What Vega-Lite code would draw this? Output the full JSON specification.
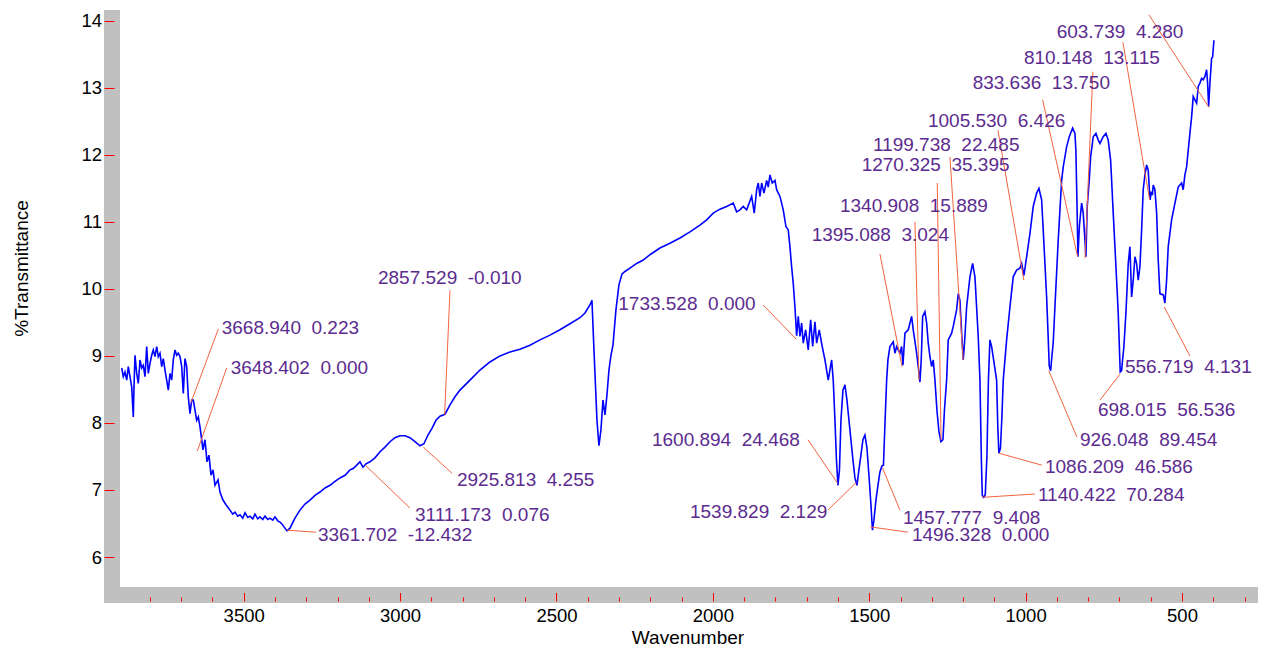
{
  "$schema": "https://vega.github.io/schema/vega-lite/v6.json",
  "width": 1154,
  "height": 593,
  "autosize": {"type": "none"},
  "padding": {"left": 104, "top": 10, "right": 4, "bottom": 44},
  "background": "white",
  "config": {
    "view": {"fill": "#c0c0c0", "stroke": null},
    "font": "Liberation Sans"
  },
  "datasets": {
    "spectrum": [
      {"wn": 3890.0, "t": 8.82}, {"wn": 3884.9, "t": 8.69}, {"wn": 3879.5, "t": 8.76}, {"wn": 3874.0, "t": 8.64},
      {"wn": 3868.9, "t": 8.84}, {"wn": 3863.5, "t": 8.69}, {"wn": 3858.1, "t": 8.54}, {"wn": 3852.9, "t": 8.09},
      {"wn": 3850.7, "t": 8.54}, {"wn": 3847.5, "t": 9.01}, {"wn": 3842.1, "t": 8.74}, {"wn": 3836.9, "t": 8.59},
      {"wn": 3831.5, "t": 8.94}, {"wn": 3826.1, "t": 8.82}, {"wn": 3821.0, "t": 8.86}, {"wn": 3815.5, "t": 8.69},
      {"wn": 3810.1, "t": 9.14}, {"wn": 3805.0, "t": 8.74}, {"wn": 3799.5, "t": 8.89}, {"wn": 3794.1, "t": 9.01},
      {"wn": 3789.0, "t": 9.09}, {"wn": 3783.6, "t": 8.99}, {"wn": 3778.1, "t": 9.14}, {"wn": 3773.0, "t": 8.99},
      {"wn": 3767.6, "t": 9.04}, {"wn": 3762.1, "t": 8.84}, {"wn": 3757.0, "t": 8.96}, {"wn": 3751.6, "t": 8.79},
      {"wn": 3746.2, "t": 8.64}, {"wn": 3741.0, "t": 8.49}, {"wn": 3735.6, "t": 8.74}, {"wn": 3730.2, "t": 8.64},
      {"wn": 3725.1, "t": 8.94}, {"wn": 3719.6, "t": 9.09}, {"wn": 3714.2, "t": 9.01}, {"wn": 3709.1, "t": 9.04},
      {"wn": 3703.6, "t": 8.99}, {"wn": 3698.2, "t": 8.84}, {"wn": 3693.1, "t": 8.44}, {"wn": 3687.7, "t": 8.96},
      {"wn": 3682.2, "t": 8.84}, {"wn": 3677.1, "t": 8.39}, {"wn": 3671.7, "t": 8.14}, {"wn": 3666.2, "t": 8.34},
      {"wn": 3661.1, "t": 8.34}, {"wn": 3655.7, "t": 8.19}, {"wn": 3650.2, "t": 8.04}, {"wn": 3645.1, "t": 8.09},
      {"wn": 3639.7, "t": 7.94}, {"wn": 3634.3, "t": 7.75}, {"wn": 3630.1, "t": 7.60}, {"wn": 3623.7, "t": 7.75},
      {"wn": 3617.3, "t": 7.42}, {"wn": 3610.9, "t": 7.52}, {"wn": 3604.5, "t": 7.22}, {"wn": 3598.1, "t": 7.30},
      {"wn": 3591.7, "t": 7.07}, {"wn": 3582.1, "t": 7.15}, {"wn": 3575.8, "t": 6.97}, {"wn": 3566.2, "t": 6.85},
      {"wn": 3556.6, "t": 6.78}, {"wn": 3550.0, "t": 6.74}, {"wn": 3543.8, "t": 6.70}, {"wn": 3535.0, "t": 6.64},
      {"wn": 3527.8, "t": 6.67}, {"wn": 3519.0, "t": 6.61}, {"wn": 3511.8, "t": 6.63}, {"wn": 3503.0, "t": 6.58},
      {"wn": 3495.8, "t": 6.66}, {"wn": 3487.0, "t": 6.59}, {"wn": 3479.8, "t": 6.61}, {"wn": 3471.0, "t": 6.57},
      {"wn": 3463.9, "t": 6.64}, {"wn": 3455.0, "t": 6.57}, {"wn": 3447.9, "t": 6.60}, {"wn": 3439.0, "t": 6.56},
      {"wn": 3431.9, "t": 6.61}, {"wn": 3423.0, "t": 6.56}, {"wn": 3415.9, "t": 6.58}, {"wn": 3407.0, "t": 6.55},
      {"wn": 3399.9, "t": 6.60}, {"wn": 3391.0, "t": 6.54}, {"wn": 3383.9, "t": 6.52}, {"wn": 3377.0, "t": 6.49},
      {"wn": 3371.1, "t": 6.45}, {"wn": 3361.6, "t": 6.39}, {"wn": 3352.0, "t": 6.43}, {"wn": 3336.0, "t": 6.58},
      {"wn": 3320.0, "t": 6.70}, {"wn": 3304.0, "t": 6.79}, {"wn": 3288.0, "t": 6.85}, {"wn": 3272.0, "t": 6.92},
      {"wn": 3256.1, "t": 6.97}, {"wn": 3240.0, "t": 7.03}, {"wn": 3224.1, "t": 7.07}, {"wn": 3208.0, "t": 7.13},
      {"wn": 3192.1, "t": 7.18}, {"wn": 3176.0, "t": 7.22}, {"wn": 3160.1, "t": 7.30}, {"wn": 3150.0, "t": 7.32},
      {"wn": 3141.0, "t": 7.36}, {"wn": 3128.2, "t": 7.42},
      {"wn": 3118.6, "t": 7.34}, {"wn": 3109.0, "t": 7.39}, {"wn": 3096.2, "t": 7.42}, {"wn": 3080.2, "t": 7.48},
      {"wn": 3064.2, "t": 7.57}, {"wn": 3048.3, "t": 7.64}, {"wn": 3032.3, "t": 7.72}, {"wn": 3016.3, "t": 7.78},
      {"wn": 3000.3, "t": 7.81}, {"wn": 2984.3, "t": 7.81}, {"wn": 2968.3, "t": 7.78}, {"wn": 2952.3, "t": 7.72},
      {"wn": 2936.4, "t": 7.66}, {"wn": 2923.6, "t": 7.69}, {"wn": 2910.8, "t": 7.82}, {"wn": 2898.0, "t": 7.92},
      {"wn": 2885.2, "t": 8.04}, {"wn": 2872.4, "t": 8.10}, {"wn": 2856.4, "t": 8.13}, {"wn": 2840.4, "t": 8.27},
      {"wn": 2824.5, "t": 8.39}, {"wn": 2808.5, "t": 8.49}, {"wn": 2776.5, "t": 8.64}, {"wn": 2744.5, "t": 8.79},
      {"wn": 2712.6, "t": 8.91}, {"wn": 2680.6, "t": 9.00}, {"wn": 2648.6, "t": 9.06}, {"wn": 2616.7, "t": 9.10},
      {"wn": 2584.7, "t": 9.16}, {"wn": 2552.7, "t": 9.24}, {"wn": 2520.7, "t": 9.31}, {"wn": 2488.8, "t": 9.39},
      {"wn": 2456.8, "t": 9.48}, {"wn": 2424.8, "t": 9.57}, {"wn": 2408.9, "t": 9.64}, {"wn": 2392.9, "t": 9.76},
      {"wn": 2386.5, "t": 9.83}, {"wn": 2380.1, "t": 9.09}, {"wn": 2370.5, "t": 8.04}, {"wn": 2364.1, "t": 7.66},
      {"wn": 2357.7, "t": 7.90}, {"wn": 2351.3, "t": 8.34}, {"wn": 2344.9, "t": 8.12}, {"wn": 2338.5, "t": 8.42},
      {"wn": 2332.1, "t": 8.79}, {"wn": 2325.7, "t": 9.01}, {"wn": 2319.3, "t": 9.16}, {"wn": 2309.7, "t": 9.69},
      {"wn": 2300.2, "t": 10.06}, {"wn": 2290.6, "t": 10.22}, {"wn": 2281.0, "t": 10.26}, {"wn": 2265.0, "t": 10.31},
      {"wn": 2243.6, "t": 10.38}, {"wn": 2222.5, "t": 10.43}, {"wn": 2201.0, "t": 10.51}, {"wn": 2169.1, "t": 10.61},
      {"wn": 2137.1, "t": 10.68}, {"wn": 2105.1, "t": 10.76}, {"wn": 2073.2, "t": 10.85}, {"wn": 2041.2, "t": 10.95},
      {"wn": 2019.8, "t": 11.03}, {"wn": 1998.7, "t": 11.13}, {"wn": 1977.3, "t": 11.19}, {"wn": 1955.8, "t": 11.23},
      {"wn": 1934.7, "t": 11.28}, {"wn": 1923.9, "t": 11.15}, {"wn": 1913.3, "t": 11.18}, {"wn": 1902.8, "t": 11.23},
      {"wn": 1891.9, "t": 11.18}, {"wn": 1875.9, "t": 11.38}, {"wn": 1867.6, "t": 11.13}, {"wn": 1859.9, "t": 11.48},
      {"wn": 1854.8, "t": 11.58}, {"wn": 1849.4, "t": 11.38}, {"wn": 1843.9, "t": 11.58}, {"wn": 1836.6, "t": 11.43},
      {"wn": 1828.0, "t": 11.62}, {"wn": 1822.8, "t": 11.52}, {"wn": 1817.4, "t": 11.70}, {"wn": 1810.1, "t": 11.58},
      {"wn": 1801.4, "t": 11.62}, {"wn": 1796.0, "t": 11.48}, {"wn": 1785.4, "t": 11.38}, {"wn": 1774.9, "t": 11.18},
      {"wn": 1766.3, "t": 10.93}, {"wn": 1758.9, "t": 10.88}, {"wn": 1753.5, "t": 10.63}, {"wn": 1748.1, "t": 10.33},
      {"wn": 1742.9, "t": 10.08}, {"wn": 1737.5, "t": 9.73}, {"wn": 1732.1, "t": 9.30}, {"wn": 1726.9, "t": 9.59},
      {"wn": 1721.5, "t": 9.29}, {"wn": 1716.1, "t": 9.49}, {"wn": 1710.9, "t": 9.19}, {"wn": 1703.3, "t": 9.39},
      {"wn": 1695.0, "t": 9.09}, {"wn": 1687.3, "t": 9.54}, {"wn": 1680.9, "t": 9.14}, {"wn": 1673.5, "t": 9.51},
      {"wn": 1668.1, "t": 9.19}, {"wn": 1659.8, "t": 9.39}, {"wn": 1651.2, "t": 9.16}, {"wn": 1641.6, "t": 8.94},
      {"wn": 1631.0, "t": 8.64}, {"wn": 1620.2, "t": 8.94}, {"wn": 1615.1, "t": 8.64}, {"wn": 1609.6, "t": 8.04},
      {"wn": 1604.8, "t": 7.45}, {"wn": 1600.0, "t": 7.07}, {"wn": 1595.2, "t": 7.30}, {"wn": 1590.4, "t": 8.04},
      {"wn": 1584.0, "t": 8.49}, {"wn": 1577.6, "t": 8.57}, {"wn": 1571.2, "t": 8.34}, {"wn": 1564.8, "t": 8.04},
      {"wn": 1558.5, "t": 7.75}, {"wn": 1552.1, "t": 7.45}, {"wn": 1545.7, "t": 7.18}, {"wn": 1539.3, "t": 7.07},
      {"wn": 1532.9, "t": 7.30}, {"wn": 1526.5, "t": 7.52}, {"wn": 1520.1, "t": 7.75}, {"wn": 1513.7, "t": 7.82},
      {"wn": 1507.3, "t": 7.63}, {"wn": 1500.9, "t": 7.22}, {"wn": 1494.5, "t": 6.78}, {"wn": 1489.7, "t": 6.40},
      {"wn": 1484.9, "t": 6.55}, {"wn": 1478.5, "t": 6.85}, {"wn": 1472.1, "t": 7.07}, {"wn": 1465.7, "t": 7.27},
      {"wn": 1459.3, "t": 7.36}, {"wn": 1454.5, "t": 7.37}, {"wn": 1449.8, "t": 7.97}, {"wn": 1444.3, "t": 8.64},
      {"wn": 1440.2, "t": 8.94}, {"wn": 1433.8, "t": 9.14}, {"wn": 1423.2, "t": 9.21}, {"wn": 1417.8, "t": 9.04},
      {"wn": 1412.4, "t": 9.14}, {"wn": 1401.8, "t": 9.04}, {"wn": 1396.4, "t": 9.14}, {"wn": 1392.2, "t": 8.86},
      {"wn": 1385.8, "t": 9.34}, {"wn": 1375.3, "t": 9.39}, {"wn": 1364.4, "t": 9.59}, {"wn": 1359.3, "t": 9.39},
      {"wn": 1348.4, "t": 9.04}, {"wn": 1343.3, "t": 8.84}, {"wn": 1337.9, "t": 8.61}, {"wn": 1333.7, "t": 8.94},
      {"wn": 1329.2, "t": 9.59}, {"wn": 1321.9, "t": 9.66}, {"wn": 1316.4, "t": 9.49}, {"wn": 1311.3, "t": 9.19},
      {"wn": 1305.9, "t": 8.99}, {"wn": 1300.5, "t": 8.84}, {"wn": 1295.3, "t": 8.94}, {"wn": 1289.9, "t": 8.64},
      {"wn": 1283.5, "t": 8.19}, {"wn": 1277.1, "t": 7.87}, {"wn": 1270.7, "t": 7.72}, {"wn": 1264.3, "t": 7.75},
      {"wn": 1259.5, "t": 8.19}, {"wn": 1252.5, "t": 8.64}, {"wn": 1247.4, "t": 9.24}, {"wn": 1236.5, "t": 9.34},
      {"wn": 1231.4, "t": 9.44}, {"wn": 1220.5, "t": 9.69}, {"wn": 1215.4, "t": 9.93}, {"wn": 1210.0, "t": 9.83},
      {"wn": 1204.5, "t": 9.34}, {"wn": 1199.4, "t": 8.94}, {"wn": 1194.0, "t": 9.29}, {"wn": 1188.6, "t": 9.73},
      {"wn": 1178.0, "t": 10.18}, {"wn": 1169.4, "t": 10.38}, {"wn": 1162.0, "t": 10.18}, {"wn": 1151.5, "t": 9.29},
      {"wn": 1146.0, "t": 8.64}, {"wn": 1141.2, "t": 7.40}, {"wn": 1138.5, "t": 6.92}, {"wn": 1134.0, "t": 6.89},
      {"wn": 1129.0, "t": 6.93}, {"wn": 1123.7, "t": 7.50}, {"wn": 1118.9, "t": 8.64}, {"wn": 1114.1, "t": 9.24},
      {"wn": 1108.6, "t": 9.14}, {"wn": 1092.7, "t": 8.64}, {"wn": 1089.0, "t": 7.95}, {"wn": 1085.5, "t": 7.55},
      {"wn": 1080.5, "t": 7.62}, {"wn": 1075.7, "t": 8.10}, {"wn": 1071.5, "t": 8.64}, {"wn": 1060.7, "t": 9.24},
      {"wn": 1050.1, "t": 9.73}, {"wn": 1039.6, "t": 10.18}, {"wn": 1028.7, "t": 10.28}, {"wn": 1018.2, "t": 10.31},
      {"wn": 1012.7, "t": 10.38}, {"wn": 1005.4, "t": 10.20}, {"wn": 996.7, "t": 10.48}, {"wn": 986.1, "t": 10.83},
      {"wn": 975.6, "t": 11.23}, {"wn": 964.8, "t": 11.43}, {"wn": 957.4, "t": 11.50}, {"wn": 948.8, "t": 11.33},
      {"wn": 943.7, "t": 10.88}, {"wn": 932.8, "t": 9.88}, {"wn": 928.0, "t": 9.30}, {"wn": 924.5, "t": 8.85},
      {"wn": 920.0, "t": 8.78}, {"wn": 916.8, "t": 8.95}, {"wn": 911.7, "t": 9.20}, {"wn": 906.3, "t": 9.73},
      {"wn": 895.7, "t": 10.73}, {"wn": 884.8, "t": 11.62}, {"wn": 879.7, "t": 11.82}, {"wn": 868.9, "t": 12.12},
      {"wn": 860.5, "t": 12.27}, {"wn": 849.7, "t": 12.40}, {"wn": 842.3, "t": 12.32}, {"wn": 839.3, "t": 12.07},
      {"wn": 836.0, "t": 11.33}, {"wn": 832.7, "t": 10.48}, {"wn": 827.9, "t": 10.95}, {"wn": 820.9, "t": 11.28},
      {"wn": 815.8, "t": 11.13}, {"wn": 810.4, "t": 10.73}, {"wn": 807.2, "t": 10.48}, {"wn": 803.0, "t": 11.23},
      {"wn": 799.8, "t": 11.43}, {"wn": 796.6, "t": 11.62}, {"wn": 792.1, "t": 11.97}, {"wn": 783.8, "t": 12.27},
      {"wn": 775.2, "t": 12.32}, {"wn": 767.8, "t": 12.22}, {"wn": 762.4, "t": 12.17}, {"wn": 751.9, "t": 12.27},
      {"wn": 743.2, "t": 12.32}, {"wn": 735.9, "t": 12.22}, {"wn": 728.2, "t": 11.92}, {"wn": 725.0, "t": 11.62},
      {"wn": 719.9, "t": 11.13}, {"wn": 714.4, "t": 10.63}, {"wn": 709.0, "t": 10.13}, {"wn": 703.9, "t": 9.64},
      {"wn": 700.0, "t": 9.10}, {"wn": 697.5, "t": 8.76}, {"wn": 693.0, "t": 8.78}, {"wn": 689.8, "t": 8.95},
      {"wn": 685.7, "t": 9.14}, {"wn": 679.3, "t": 9.64}, {"wn": 671.9, "t": 10.38}, {"wn": 666.5, "t": 10.63},
      {"wn": 661.1, "t": 9.88}, {"wn": 655.9, "t": 10.13}, {"wn": 650.5, "t": 10.48}, {"wn": 645.1, "t": 10.38},
      {"wn": 640.0, "t": 10.13}, {"wn": 634.5, "t": 10.33}, {"wn": 629.1, "t": 10.88}, {"wn": 624.0, "t": 11.48},
      {"wn": 618.5, "t": 11.70}, {"wn": 613.1, "t": 11.85}, {"wn": 608.0, "t": 11.77}, {"wn": 604.5, "t": 11.50},
      {"wn": 602.0, "t": 11.33}, {"wn": 598.0, "t": 11.45}, {"wn": 594.6, "t": 11.40}, {"wn": 592.0, "t": 11.55},
      {"wn": 586.6, "t": 11.48}, {"wn": 581.1, "t": 11.13}, {"wn": 576.0, "t": 10.43}, {"wn": 570.6, "t": 9.93},
      {"wn": 560.0, "t": 9.91}, {"wn": 554.6, "t": 9.79}, {"wn": 549.2, "t": 10.13}, {"wn": 544.0, "t": 10.63},
      {"wn": 533.2, "t": 11.03}, {"wn": 522.6, "t": 11.28}, {"wn": 512.1, "t": 11.52}, {"wn": 501.2, "t": 11.58},
      {"wn": 496.1, "t": 11.48}, {"wn": 490.7, "t": 11.70}, {"wn": 485.2, "t": 11.82}, {"wn": 480.1, "t": 12.07},
      {"wn": 474.7, "t": 12.32}, {"wn": 469.2, "t": 12.57}, {"wn": 464.1, "t": 12.87}, {"wn": 458.7, "t": 12.82},
      {"wn": 453.2, "t": 12.77}, {"wn": 448.1, "t": 13.02}, {"wn": 442.7, "t": 13.07}, {"wn": 437.3, "t": 13.14},
      {"wn": 432.1, "t": 13.12}, {"wn": 426.7, "t": 13.17}, {"wn": 421.3, "t": 13.27}, {"wn": 418.1, "t": 13.07},
      {"wn": 414.9, "t": 12.72}, {"wn": 410.7, "t": 13.07}, {"wn": 405.3, "t": 13.44}, {"wn": 402.1, "t": 13.46},
      {"wn": 397.9, "t": 13.71}
    ],
    "peakLabels": [
      {"wn": 3570.3, "t": 9.42, "label": "3668.940\u00a0\u00a00.223"},
      {"wn": 3541.6, "t": 8.82, "label": "3648.402\u00a0\u00a00.000"},
      {"wn": 3070.6, "t": 10.16, "label": "2857.529\u00a0\u00a0-0.010"},
      {"wn": 3262.5, "t": 6.33, "label": "3361.702\u00a0\u00a0-12.432"},
      {"wn": 2952.3, "t": 6.63, "label": "3111.173\u00a0\u00a00.076"},
      {"wn": 2818.1, "t": 7.15, "label": "2925.813\u00a0\u00a04.255"},
      {"wn": 2302.4, "t": 9.77, "label": "1733.528\u00a0\u00a00.000"},
      {"wn": 2194.7, "t": 7.75, "label": "1600.894\u00a0\u00a024.468"},
      {"wn": 2073.2, "t": 6.67, "label": "1539.829\u00a0\u00a02.129"},
      {"wn": 1392.2, "t": 6.58, "label": "1457.777\u00a0\u00a09.408"},
      {"wn": 1363.4, "t": 6.33, "label": "1496.328\u00a0\u00a00.000"},
      {"wn": 1684.1, "t": 10.80, "label": "1395.088\u00a0\u00a03.024"},
      {"wn": 1593.6, "t": 11.23, "label": "1340.908\u00a0\u00a015.889"},
      {"wn": 1524.3, "t": 11.85, "label": "1270.325\u00a0\u00a035.395"},
      {"wn": 1488.1, "t": 12.15, "label": "1199.738\u00a0\u00a022.485"},
      {"wn": 1312.3, "t": 12.51, "label": "1005.530\u00a0\u00a06.426"},
      {"wn": 1169.4, "t": 13.07, "label": "833.636\u00a0\u00a013.750"},
      {"wn": 1005.4, "t": 13.45, "label": "810.148\u00a0\u00a013.115"},
      {"wn": 900.8, "t": 13.84, "label": "603.739\u00a0\u00a04.280"},
      {"wn": 960.6, "t": 6.93, "label": "1140.422\u00a0\u00a070.284"},
      {"wn": 938.2, "t": 7.34, "label": "1086.209\u00a0\u00a046.586"},
      {"wn": 826.3, "t": 7.75, "label": "926.048\u00a0\u00a089.454"},
      {"wn": 768.8, "t": 8.19, "label": "698.015\u00a0\u00a056.536"},
      {"wn": 682.5, "t": 8.83, "label": "556.719\u00a0\u00a04.131"}
    ],
    "leaders": [
      {"wn": 3581.2, "t": 9.40, "wn2": 3668.94, "t2": 8.30},
      {"wn": 3554.3, "t": 8.82, "wn2": 3648.40, "t2": 7.58},
      {"wn": 2840.4, "t": 9.98, "wn2": 2857.53, "t2": 8.12},
      {"wn": 3268.8, "t": 6.37, "wn2": 3361.70, "t2": 6.40},
      {"wn": 2968.3, "t": 6.73, "wn2": 3111.17, "t2": 7.37},
      {"wn": 2834.1, "t": 7.25, "wn2": 2925.81, "t2": 7.64},
      {"wn": 1838.8, "t": 9.76, "wn2": 1733.53, "t2": 9.25},
      {"wn": 1695.9, "t": 7.75, "wn2": 1600.89, "t2": 7.10},
      {"wn": 1632.0, "t": 6.70, "wn2": 1539.83, "t2": 7.12},
      {"wn": 1401.8, "t": 6.70, "wn2": 1457.78, "t2": 7.33},
      {"wn": 1376.2, "t": 6.37, "wn2": 1496.33, "t2": 6.45},
      {"wn": 1465.7, "t": 10.52, "wn2": 1395.09, "t2": 8.84},
      {"wn": 1353.8, "t": 11.00, "wn2": 1340.91, "t2": 8.64},
      {"wn": 1282.5, "t": 11.58, "wn2": 1270.33, "t2": 7.75},
      {"wn": 1241.9, "t": 11.97, "wn2": 1199.74, "t2": 8.94},
      {"wn": 1088.5, "t": 12.37, "wn2": 1005.53, "t2": 10.13},
      {"wn": 945.6, "t": 12.82, "wn2": 833.64, "t2": 10.48},
      {"wn": 784.8, "t": 13.24, "wn2": 810.15, "t2": 10.46},
      {"wn": 688.9, "t": 13.68, "wn2": 603.74, "t2": 11.33},
      {"wn": 605.8, "t": 14.09, "wn2": 414.0, "t2": 12.71},
      {"wn": 970.2, "t": 6.94, "wn2": 1140.42, "t2": 6.89},
      {"wn": 947.8, "t": 7.37, "wn2": 1086.21, "t2": 7.55},
      {"wn": 836.0, "t": 7.79, "wn2": 926.05, "t2": 8.78},
      {"wn": 762.4, "t": 8.34, "wn2": 698.02, "t2": 8.73},
      {"wn": 556.72, "t": 9.73, "wn2": 474.7, "t2": 9.00}
    ]
  },
  "resolve": {"axis": {"x": "independent", "y": "independent"}},
  "layer": [
    {
      "data": {"values": [{}]},
      "mark": {"type": "rect", "fill": "white", "stroke": null},
      "encoding": {
        "x": {
          "datum": 3895.5,
          "type": "quantitative",
          "scale": {"domain": [3946.6, 257], "nice": false, "zero": false},
          "axis": {
            "orient": "bottom",
            "offset": -2,
            "values": [300, 400, 600, 700, 800, 900, 1100, 1200, 1300, 1400, 1600, 1700, 1800, 1900, 2100, 2200, 2300, 2400, 2600, 2700, 2800, 2900, 3100, 3200, 3300, 3400, 3600, 3700, 3800],
            "tickSize": -4,
            "tickColor": "#ff0000",
            "tickWidth": 1,
            "labels": false,
            "domain": false,
            "grid": false,
            "title": null
          }
        },
        "x2": {"datum": 257},
        "y": {
          "datum": 5.553,
          "type": "quantitative",
          "scale": {"domain": [5.314, 14.161], "nice": false, "zero": false},
          "axis": null
        },
        "y2": {"datum": 14.161}
      }
    },
    {
      "data": {"name": "spectrum"},
      "mark": {"type": "line", "color": "#0000ff", "strokeWidth": 1.6},
      "encoding": {
        "x": {
          "field": "wn",
          "type": "quantitative",
          "scale": {"domain": [3946.6, 257], "nice": false, "zero": false},
          "axis": {
            "orient": "bottom",
            "offset": -2,
            "values": [500, 1000, 1500, 2000, 2500, 3000, 3500],
            "format": "d",
            "tickSize": -8.5,
            "tickColor": "#ff0000",
            "tickWidth": 1,
            "domain": false,
            "grid": false,
            "labelFont": "Liberation Sans",
            "labelFontSize": 18.5,
            "labelColor": "#000000",
            "labelBaseline": "alphabetic",
            "labelPadding": 29.1,
            "labelFlush": false,
            "labelOverlap": false,
            "title": "Wavenumber",
            "titleFont": "Liberation Sans",
            "titleFontSize": 19,
            "titleFontWeight": "normal",
            "titleColor": "#000000",
            "titleAlign": "center",
            "titleBaseline": "alphabetic",
            "titleX": 583.5,
            "titleY": 42
          }
        },
        "y": {
          "field": "t",
          "type": "quantitative",
          "scale": {"domain": [5.314, 14.161], "nice": false, "zero": false},
          "axis": {
            "orient": "left",
            "values": [6, 7, 8, 9, 10, 11, 12, 13, 14],
            "format": "d",
            "tickSize": -10,
            "tickColor": "#ff0000",
            "tickWidth": 1,
            "domain": false,
            "grid": false,
            "labelFont": "Liberation Sans",
            "labelFontSize": 18.5,
            "labelColor": "#000000",
            "labelPadding": 12.5,
            "labelFlush": false,
            "labelOverlap": false,
            "title": "%Transmittance",
            "titleFont": "Liberation Sans",
            "titleFontSize": 19,
            "titleFontWeight": "normal",
            "titleColor": "#000000",
            "titleAngle": -90,
            "titleAlign": "center",
            "titleBaseline": "alphabetic",
            "titleX": -76.5,
            "titleY": 258
          }
        }
      }
    },
    {
      "data": {"name": "leaders"},
      "mark": {"type": "rule", "color": "#f2643f", "strokeWidth": 1},
      "encoding": {
        "x": {"field": "wn", "type": "quantitative", "scale": {"domain": [3946.6, 257], "nice": false, "zero": false}, "axis": null},
        "x2": {"field": "wn2"},
        "y": {"field": "t", "type": "quantitative", "scale": {"domain": [5.314, 14.161], "nice": false, "zero": false}, "axis": null},
        "y2": {"field": "t2"}
      }
    },
    {
      "data": {"name": "peakLabels"},
      "mark": {"type": "text", "align": "left", "baseline": "middle", "font": "Liberation Sans", "fontSize": 19, "color": "#5c2b8f"},
      "encoding": {
        "x": {"field": "wn", "type": "quantitative", "scale": {"domain": [3946.6, 257], "nice": false, "zero": false}, "axis": null},
        "y": {"field": "t", "type": "quantitative", "scale": {"domain": [5.314, 14.161], "nice": false, "zero": false}, "axis": null},
        "text": {"field": "label"}
      }
    }
  ]
}
